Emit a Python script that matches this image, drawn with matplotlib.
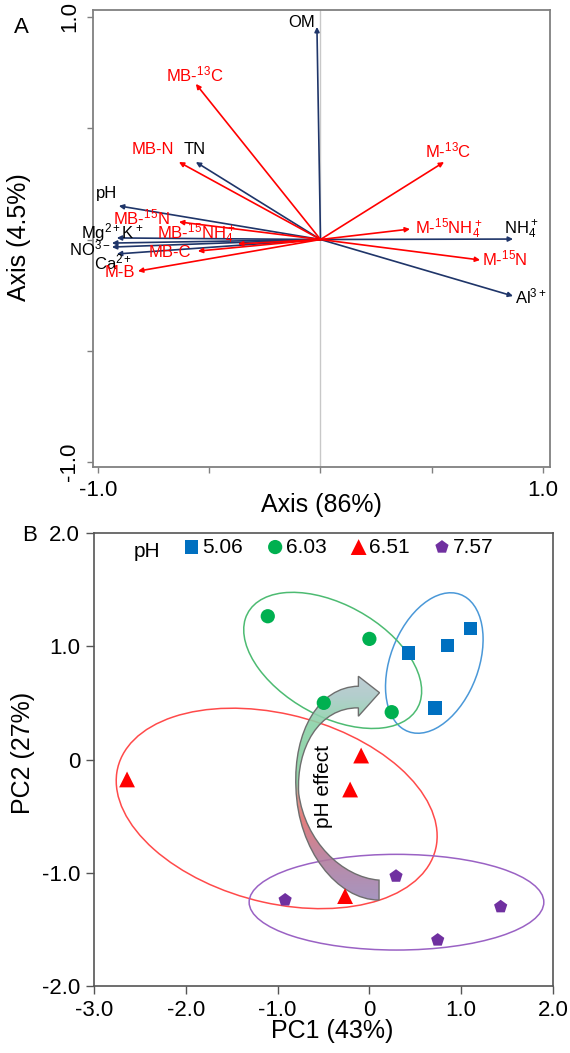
"""
Two-panel ordination figure: (A) loading biplot of soil and microbial
variables, (B) PCA scores of the soil samples grouped by pH.
"""
import numpy as np
import matplotlib
matplotlib.use('Agg')
import matplotlib.pyplot as plt
from matplotlib.patches import Ellipse, PathPatch
from matplotlib.path import Path
from matplotlib.colors import LinearSegmentedColormap

plt.rcParams['font.family'] = ['Liberation Sans', 'DejaVu Sans']
plt.rcParams['mathtext.fontset'] = 'custom'
plt.rcParams['mathtext.rm'] = 'Liberation Sans'
plt.rcParams['mathtext.it'] = 'Liberation Sans:italic'
plt.rcParams['mathtext.bf'] = 'Liberation Sans:bold'
plt.rcParams['mathtext.default'] = 'regular'

# ---- panel A: loadings (soil properties in blue, microbial in red)
env_labels = ['OM', 'TN', 'pH', 'Mg$^{2+}$K$^+$', '', 'NO$^{3-}$',
              'Ca$^{2+}$', 'NH$_4^+$', 'Al$^{3+}$']
env_x = [-0.016, -0.560, -0.906, -0.915, -0.937, -0.937, -0.915, 0.865, 0.865]
env_y = [0.955, 0.348, 0.151, 0.007, -0.016, -0.034, -0.065, 0.002, -0.254]

mic_labels = ['MB-$^{13}$C', 'MB-N', 'MB-$^{15}$N', 'MB-$^{15}$NH$_4^+$',
              'MB-C', 'M-B', 'M-$^{13}$C', 'M-$^{15}$NH$_4^+$', 'M-$^{15}$N']
mic_x = [-0.560, -0.636, -0.636, -0.371, -0.551, -0.820, 0.555, 0.402, 0.717]
mic_y = [0.699, 0.348, 0.079, -0.020, -0.052, -0.142, 0.348, 0.047, -0.092]

# label offsets from arrow tips, in points
env_offsets = [(-11, 3), (-1, 9), (-9, 9), (-3, 4), (0, 0), (-16, -1),
               (-3, -6), (6, 7), (13, 0)]
mic_offsets = [(-1, 7), (-19, 9), (-27, 3), (-30, 7), (-20, -1), (-13, -1),
               (3, 8), (28, 0), (18, 1)]

# ---- panel B: PCA scores per pH level
ph_levels = ['5.06', '6.03', '6.51', '7.57']
pc1 = [[0.425, 0.85, 1.10, 0.715],
       [-1.107, 0.0, -0.497, 0.243],
       [-2.64, -0.09, -0.21, -0.265],
       [-0.918, 0.29, 1.43, 0.744]]
pc2 = [[0.94, 1.005, 1.156, 0.456],
       [1.265, 1.065, 0.50, 0.418],
       [-0.176, 0.035, -0.265, -1.206],
       [-1.24, -1.03, -1.30, -1.594]]
# group ellipses: centre, width, height, angle
ell_center = [(0.707, 0.852), (-0.40, 0.875), (-1.01, -0.432), (0.295, -1.26)]
ell_width = [1.35, 2.04, 3.54, 3.21]
ell_height = [0.92, 1.02, 1.68, 0.845]
ell_angle = [57.4, -21.1, -10.3, 0.0]

markers = ['s', 'o', '^', 'p']
marker_sizes = [95, 105, 130, 100]
point_colors = ['#0070c0', '#00b050', '#ff0000', '#7030a0']
ellipse_colors = ['#4a98d8', '#4dbb72', '#ff4a4a', '#9a62c4']

NAVY = '#1f3569'
RED = '#ff0000'

fig = plt.figure(figsize=(5.70, 10.53), dpi=100)

# ---------------- panel A
axA = fig.add_axes([93 / 570, 1 - 467 / 1053, 457 / 570, 457 / 1053])
axA.axvline(0, color='#c8c8c8', lw=1.0, zorder=0)

for xs, ys, labs, offs, col, tcol in (
        (env_x, env_y, env_labels, env_offsets, NAVY, 'black'),
        (mic_x, mic_y, mic_labels, mic_offsets, RED, RED)):
    for x, y, lab, off in zip(xs, ys, labs, offs):
        axA.annotate('', xy=(x, y), xytext=(0, 0),
                     arrowprops=dict(arrowstyle='-|>', color=col, lw=1.2,
                                     mutation_scale=7, shrinkA=0, shrinkB=0))
        if lab:
            axA.annotate(lab, xy=(x, y), xytext=off,
                         textcoords='offset points', ha='center',
                         va='center', fontsize=12, color=tcol)

axA.set_xlim(-1.022, 1.031)
axA.set_ylim(-1.022, 1.031)
axA.set_xticks([-1, -0.5, 0, 0.5, 1])
axA.set_xticklabels(['-1.0', '', '', '', '1.0'])
axA.set_yticks([-1, -0.5, 0, 0.5, 1])
axA.set_yticklabels(['-1.0', '', '', '', '1.0'], rotation=90, va='center')
for sp in axA.spines.values():
    sp.set_color('#808080')
    sp.set_linewidth(1.3)
axA.tick_params(direction='out', length=4, width=1, color='#808080',
                labelsize=16, pad=5)
axA.set_xlabel('Axis (86%)', fontsize=18)
axA.xaxis.set_label_coords(0.5, -0.056)
axA.set_ylabel('Axis (4.5%)', fontsize=18)
axA.yaxis.set_label_coords(-0.135, 0.503)
fig.text(0.037, 0.974, 'A', fontsize=16, ha='center', va='center')

# ---------------- panel B
axB = fig.add_axes([94 / 570, 1 - 986 / 1053, 459 / 570, 453 / 1053])

for c, w, h, a, col in zip(ell_center, ell_width, ell_height, ell_angle,
                           ellipse_colors):
    axB.add_patch(Ellipse(c, w, h, angle=a, fill=False, edgecolor=col,
                          lw=1.1, zorder=2))

# curved "pH effect" arrow
verts = [(-0.12, 0.647),
         (-0.55, 0.64), (-0.83, 0.25), (-0.80, -0.25),
         (-0.78, -0.80), (-0.35, -1.24), (0.105, -1.241),
         (0.105, -1.065),
         (-0.30, -1.04), (-0.70, -0.72), (-0.77, -0.30),
         (-0.80, 0.10), (-0.55, 0.46), (-0.12, 0.456),
         (-0.12, 0.382), (0.11, 0.59), (-0.12, 0.735), (-0.12, 0.647)]
codes = ([Path.MOVETO] + [Path.CURVE4] * 6 + [Path.LINETO]
         + [Path.CURVE4] * 6 + [Path.LINETO] * 3 + [Path.CLOSEPOLY])
arrow = PathPatch(Path(verts, codes), facecolor='none', edgecolor='#6e6e6e',
                  lw=1.0, zorder=4)
axB.add_patch(arrow)
cmap = LinearSegmentedColormap.from_list('ph', [
    (0.0, '#9a88b8'), (0.18, '#b07a9c'), (0.36, '#e06c6c'),
    (0.46, '#d88a80'), (0.52, '#86cf9f'), (0.78, '#88d2a6'),
    (0.9, '#a9c8c6'), (1.0, '#b8c6d0')])
grad = np.linspace(0, 1, 256).reshape(-1, 1)
im = axB.imshow(grad, extent=[-0.9, 0.2, -1.26, 0.76], origin='lower',
                cmap=cmap, aspect='auto', alpha=0.88, zorder=3)
im.set_clip_path(arrow)
axB.text(-0.50, -0.24, 'pH effect', rotation=90, ha='center', va='center',
         fontsize=15, zorder=5)

handles = []
for xs, ys, m, s, col in zip(pc1, pc2, markers, marker_sizes, point_colors):
    handles.append(axB.scatter(xs, ys, marker=m, s=s, color=col,
                               edgecolors='none', zorder=6))

axB.text(-2.42, 1.84, 'pH', ha='center', va='center', fontsize=15)
axB.legend(handles, ph_levels, loc='upper left', bbox_to_anchor=(0.197, 0.99),
           ncol=4, frameon=False, fontsize=15, handlelength=0.7,
           handletextpad=0.15, columnspacing=1.2, borderpad=0,
           borderaxespad=0, scatterpoints=1)

axB.set_xlim(-3, 2)
axB.set_ylim(-2, 2)
axB.set_xticks([-3, -2, -1, 0, 1, 2])
axB.set_xticklabels(['-3.0', '-2.0', '-1.0', '0', '1.0', '2.0'])
axB.set_yticks([-2, -1, 0, 1, 2])
axB.set_yticklabels(['-2.0', '-1.0', '0', '1.0', '2.0'])
for sp in axB.spines.values():
    sp.set_color('#555555')
    sp.set_linewidth(1.2)
axB.tick_params(direction='out', length=6, width=1, color='#555555',
                labelsize=16, pad=4)
axB.set_xlabel('PC1 (43%)', fontsize=18)
axB.xaxis.set_label_coords(0.52, -0.072)
axB.set_ylabel('PC2 (27%)', fontsize=18)
axB.yaxis.set_label_coords(-0.128, 0.514)
fig.text(0.051, 0.491, 'B', fontsize=16, ha='center', va='center')

fig.savefig('out.png', dpi=100)
